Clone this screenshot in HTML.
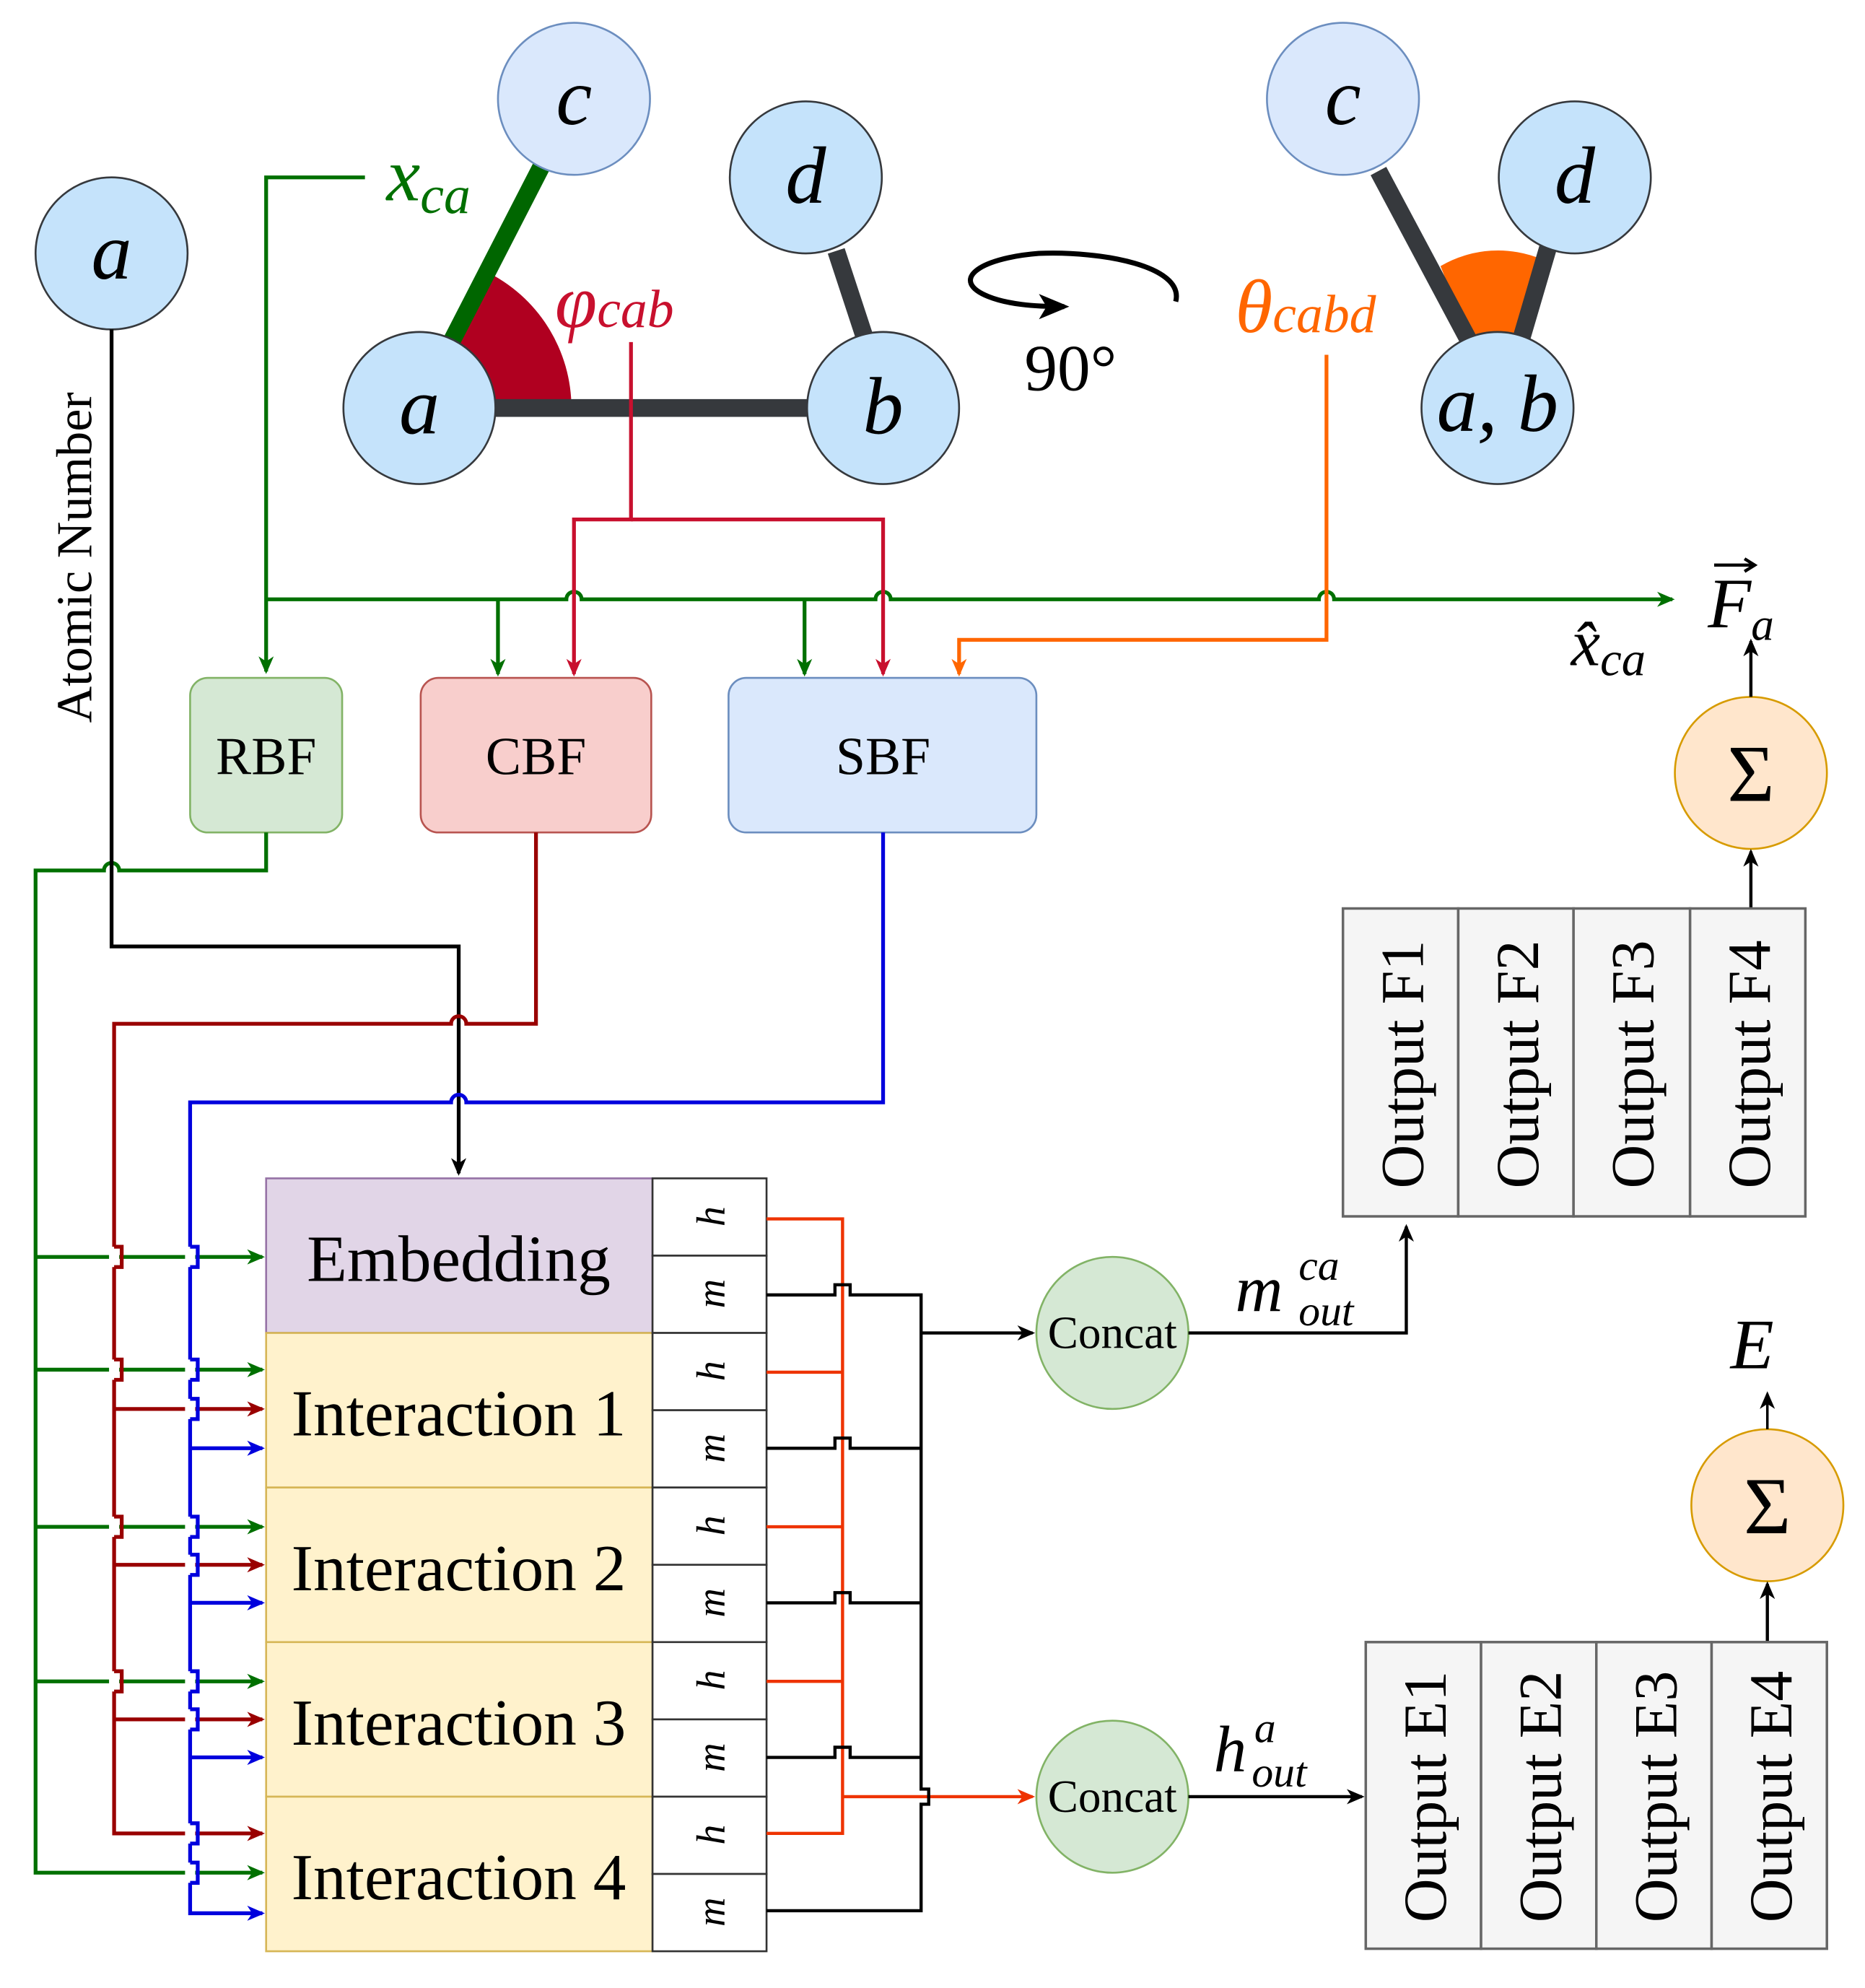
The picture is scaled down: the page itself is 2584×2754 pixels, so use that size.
<!DOCTYPE html>
<html><head><meta charset="utf-8"><style>html,body{margin:0;padding:0;background:#fff}svg{display:block}</style></head><body>
<svg width="2584" height="2754" viewBox="0 0 1472 1569" xmlns="http://www.w3.org/2000/svg" font-family="Liberation Serif, serif">
<defs>
<marker id="ak" markerWidth="14" markerHeight="12" refX="12" refY="6" orient="auto" markerUnits="userSpaceOnUse"><path d="M0,0 L14,6 L0,12 L4,6z" fill="#000"/></marker>
<marker id="ag" markerWidth="14" markerHeight="12" refX="12" refY="6" orient="auto" markerUnits="userSpaceOnUse"><path d="M0,0 L14,6 L0,12 L4,6z" fill="#007000"/></marker>
<marker id="ar" markerWidth="14" markerHeight="12" refX="12" refY="6" orient="auto" markerUnits="userSpaceOnUse"><path d="M0,0 L14,6 L0,12 L4,6z" fill="#c8102e"/></marker>
<marker id="ad" markerWidth="14" markerHeight="12" refX="12" refY="6" orient="auto" markerUnits="userSpaceOnUse"><path d="M0,0 L14,6 L0,12 L4,6z" fill="#990000"/></marker>
<marker id="ab" markerWidth="14" markerHeight="12" refX="12" refY="6" orient="auto" markerUnits="userSpaceOnUse"><path d="M0,0 L14,6 L0,12 L4,6z" fill="#0000dd"/></marker>
<marker id="ao" markerWidth="14" markerHeight="12" refX="12" refY="6" orient="auto" markerUnits="userSpaceOnUse"><path d="M0,0 L14,6 L0,12 L4,6z" fill="#ff6600"/></marker>
<marker id="aor" markerWidth="14" markerHeight="12" refX="12" refY="6" orient="auto" markerUnits="userSpaceOnUse"><path d="M0,0 L14,6 L0,12 L4,6z" fill="#ee3300"/></marker>
<marker id="abig" markerWidth="24" markerHeight="20" refX="20" refY="10" orient="auto" markerUnits="userSpaceOnUse"><path d="M0,0 L24,10 L0,20 L6,10z" fill="#000"/></marker>
</defs>

<path d="M331,322 L451,322 A120,120 0 0 0 383,214 Z" fill="#b00020"/>
<line x1="331" y1="322" x2="697" y2="322" stroke="#36393d" stroke-width="14"/>
<line x1="355" y1="272" x2="428" y2="130" stroke="#006600" stroke-width="14"/>
<line x1="660" y1="198" x2="683" y2="268" stroke="#36393d" stroke-width="14"/>
<g stroke="#36393d" stroke-width="1.5">
<circle cx="88" cy="200" r="60" fill="#c5e3fb"/>
<circle cx="453" cy="78" r="60" fill="#dae8fc" stroke="#6c8ebf"/>
<circle cx="636" cy="140" r="60" fill="#c5e3fb"/>
<circle cx="331" cy="322" r="60" fill="#c5e3fb"/>
<circle cx="697" cy="322" r="60" fill="#c5e3fb"/>
</g>
<g font-style="italic" font-size="64" text-anchor="middle">
<text x="88" y="220">a</text><text x="453" y="98">c</text><text x="636" y="160">d</text><text x="331" y="342">a</text><text x="697" y="342">b</text>
</g>
<text x="305" y="158" font-style="italic" font-size="60" fill="#007000">x<tspan font-size="42" dy="10">ca</tspan></text>
<text x="438" y="258" font-style="italic" font-size="60" fill="#c8102e">φ<tspan font-size="42">cab</tspan></text>
<path d="M928,238 C935,210 870,198 820,200 C770,204 750,222 780,234 C795,240 815,242 840,242" fill="none" stroke="#000" stroke-width="4" marker-end="url(#abig)"/>
<text x="845" y="308" font-size="52" text-anchor="middle">90°</text>

<path d="M1160,268 L1137,210 A90,90 0 0 1 1218,205 L1200,268 Z" fill="#ff6600"/>
<line x1="1088" y1="135" x2="1160" y2="270" stroke="#36393d" stroke-width="14"/>
<line x1="1222" y1="195" x2="1200" y2="270" stroke="#36393d" stroke-width="14"/>
<g stroke="#36393d" stroke-width="1.5">
<circle cx="1060" cy="78" r="60" fill="#dae8fc" stroke="#6c8ebf"/>
<circle cx="1243" cy="140" r="60" fill="#c5e3fb"/>
<circle cx="1182" cy="322" r="60" fill="#c5e3fb"/>
</g>
<g font-style="italic" font-size="64" text-anchor="middle">
<text x="1060" y="98">c</text><text x="1243" y="160">d</text><text x="1182" y="340">a, b</text>
</g>
<text x="975" y="262" font-style="italic" font-size="60" fill="#ff6600">θ<tspan font-size="42">cabd</tspan></text>

<text transform="translate(72,440) rotate(-90)" font-size="40" text-anchor="middle">Atomic Number</text>

<g fill="none" stroke="#007000" stroke-width="3">
<path d="M288,140 H210 V530" marker-end="url(#ag)"/>
<path d="M210,473 H447 a6,6 0 0 1 12,0 H691 a6,6 0 0 1 12,0 H1041 a6,6 0 0 1 12,0 H1320" marker-end="url(#ag)"/>
<path d="M393,473 V532" marker-end="url(#ag)"/>
<path d="M635,473 V532" marker-end="url(#ag)"/>
</g>
<g fill="none" stroke="#c8102e" stroke-width="3">
<path d="M498,270 V410 H453 V532" marker-end="url(#ar)"/>
<path d="M498,410 H697 V532" marker-end="url(#ar)"/>
</g>
<path d="M1047,280 V505 H757 V532" fill="none" stroke="#ff6600" stroke-width="3" marker-end="url(#ao)"/>
<text x="1240" y="525" font-style="italic" font-size="52">x̂<tspan font-size="38" dy="8">ca</tspan></text>
<text x="1348" y="495" font-style="italic" font-size="56">F<tspan font-size="36" dy="10">a</tspan></text>
<path d="M1353,446 H1384 M1377,441 L1385,446 L1377,451" stroke="#000" stroke-width="2.5" fill="none"/>

<rect x="150" y="535" width="120" height="122" rx="14" fill="#d5e8d4" stroke="#82b366" stroke-width="1.5"/>
<rect x="332" y="535" width="182" height="122" rx="14" fill="#f8cecc" stroke="#b85450" stroke-width="1.5"/>
<rect x="575" y="535" width="243" height="122" rx="14" fill="#dae8fc" stroke="#6c8ebf" stroke-width="1.5"/>
<g font-size="42" text-anchor="middle"><text x="210" y="611">RBF</text><text x="423" y="611">CBF</text><text x="697" y="611">SBF</text></g>

<circle cx="1382" cy="610" r="60" fill="#ffe6cc" stroke="#d79b00" stroke-width="1.5"/>
<text x="1382" y="632" font-size="64" text-anchor="middle">Σ</text>
<path d="M1382,550 V506" stroke="#000" stroke-width="2.5" marker-end="url(#ak)"/>
<path d="M1382,717 V672" stroke="#000" stroke-width="2.5" marker-end="url(#ak)"/>
<g stroke="#666" stroke-width="2" fill="#f5f5f5">
<rect x="1060" y="717" width="91" height="243"/><rect x="1151" y="717" width="91" height="243"/><rect x="1242" y="717" width="92" height="243"/><rect x="1334" y="717" width="91" height="243"/>
</g>
<g font-size="48" text-anchor="middle">
<text transform="translate(1123,840) rotate(-90)">Output F1</text>
<text transform="translate(1214,840) rotate(-90)">Output F2</text>
<text transform="translate(1305,840) rotate(-90)">Output F3</text>
<text transform="translate(1397,840) rotate(-90)">Output F4</text>
</g>

<circle cx="1395" cy="1188" r="60" fill="#ffe6cc" stroke="#d79b00" stroke-width="1.5"/>
<text x="1395" y="1210" font-size="64" text-anchor="middle">Σ</text>
<text x="1383" y="1080" font-style="italic" font-size="56" text-anchor="middle">E</text>
<path d="M1395,1128 V1100" stroke="#000" stroke-width="2" marker-end="url(#ak)"/>
<path d="M1395,1296 V1250" stroke="#000" stroke-width="2.5" marker-end="url(#ak)"/>
<g stroke="#666" stroke-width="2" fill="#f5f5f5">
<rect x="1078" y="1296" width="91" height="242"/><rect x="1169" y="1296" width="91" height="242"/><rect x="1260" y="1296" width="91" height="242"/><rect x="1351" y="1296" width="91" height="242"/>
</g>
<g font-size="48" text-anchor="middle">
<text transform="translate(1141,1418) rotate(-90)">Output E1</text>
<text transform="translate(1232,1418) rotate(-90)">Output E2</text>
<text transform="translate(1323,1418) rotate(-90)">Output E3</text>
<text transform="translate(1414,1418) rotate(-90)">Output E4</text>
</g>

<g fill="none" stroke-width="3">
<path d="M210,657 V687 H94 a6,6 0 0 0 -12,0 H28 V1478 H207" stroke="#007000" marker-end="url(#ag)"/>
<path d="M28,992 H207" stroke="#007000" marker-end="url(#ag)"/>
<path d="M28,1081 H207" stroke="#007000" marker-end="url(#ag)"/>
<path d="M28,1205 H207" stroke="#007000" marker-end="url(#ag)"/>
<path d="M28,1327 H207" stroke="#007000" marker-end="url(#ag)"/>
<path d="M88,260 V747 H362 V926" stroke="#000" marker-end="url(#ak)"/>
<path d="M423,657 V808 H368 a6,6 0 0 0 -12,0 H90 V1447 H207" stroke="#990000" marker-end="url(#ad)"/>
<path d="M90,1112 H207" stroke="#990000" marker-end="url(#ad)"/>
<path d="M90,1235 H207" stroke="#990000" marker-end="url(#ad)"/>
<path d="M90,1357 H207" stroke="#990000" marker-end="url(#ad)"/>
<path d="M697,657 V870 H368 a6,6 0 0 0 -12,0 H150 V1510 H207" stroke="#0000dd" marker-end="url(#ab)"/>
<path d="M150,1143 H207" stroke="#0000dd" marker-end="url(#ab)"/>
<path d="M150,1265 H207" stroke="#0000dd" marker-end="url(#ab)"/>
<path d="M150,1387 H207" stroke="#0000dd" marker-end="url(#ab)"/>
</g>
<g fill="#fff" stroke="none">
<rect x="86" y="984" width="8" height="16"/><rect x="86" y="1073" width="8" height="16"/><rect x="86" y="1197" width="8" height="16"/><rect x="86" y="1319" width="8" height="16"/>
<rect x="146" y="984" width="8" height="16"/><rect x="146" y="1073" width="8" height="16"/><rect x="146" y="1104" width="8" height="16"/><rect x="146" y="1197" width="8" height="16"/><rect x="146" y="1227" width="8" height="16"/><rect x="146" y="1319" width="8" height="16"/><rect x="146" y="1349" width="8" height="16"/><rect x="146" y="1439" width="8" height="16"/><rect x="146" y="1470" width="8" height="16"/>
</g>
<g fill="none" stroke-width="3">
<path d="M90,984 h6 v16 h-6" stroke="#990000"/><path d="M90,1073 h6 v16 h-6" stroke="#990000"/><path d="M90,1197 h6 v16 h-6" stroke="#990000"/><path d="M90,1319 h6 v16 h-6" stroke="#990000"/>
<path d="M150,984 h6 v16 h-6" stroke="#0000dd"/><path d="M150,1073 h6 v16 h-6" stroke="#0000dd"/><path d="M150,1104 h6 v16 h-6" stroke="#0000dd"/><path d="M150,1197 h6 v16 h-6" stroke="#0000dd"/><path d="M150,1227 h6 v16 h-6" stroke="#0000dd"/><path d="M150,1319 h6 v16 h-6" stroke="#0000dd"/><path d="M150,1349 h6 v16 h-6" stroke="#0000dd"/><path d="M150,1439 h6 v16 h-6" stroke="#0000dd"/><path d="M150,1470 h6 v16 h-6" stroke="#0000dd"/>
</g>

<rect x="210" y="930" width="305" height="122" fill="#e1d5e7" stroke="#9673a6" stroke-width="1.5"/>
<g fill="#fff2cc" stroke="#d6b656" stroke-width="1.5">
<rect x="210" y="1052" width="305" height="122"/><rect x="210" y="1174" width="305" height="122"/><rect x="210" y="1296" width="305" height="122"/><rect x="210" y="1418" width="305" height="122"/>
</g>
<g font-size="52" text-anchor="middle">
<text x="362" y="1011">Embedding</text>
<text x="362" y="1133">Interaction 1</text>
<text x="362" y="1255">Interaction 2</text>
<text x="362" y="1377">Interaction 3</text>
<text x="362" y="1499">Interaction 4</text>
</g>
<g fill="#fff" stroke="#333" stroke-width="1.5">
<rect x="515" y="930" width="90" height="61"/><rect x="515" y="991" width="90" height="61"/>
<rect x="515" y="1052" width="90" height="61"/><rect x="515" y="1113" width="90" height="61"/>
<rect x="515" y="1174" width="90" height="61"/><rect x="515" y="1235" width="90" height="61"/>
<rect x="515" y="1296" width="90" height="61"/><rect x="515" y="1357" width="90" height="61"/>
<rect x="515" y="1418" width="90" height="61"/><rect x="515" y="1479" width="90" height="61"/>
</g>
<g font-style="italic" font-size="32" text-anchor="middle">
<text transform="translate(572,960) rotate(-90)">h</text><text transform="translate(572,1021) rotate(-90)">m</text>
<text transform="translate(572,1082) rotate(-90)">h</text><text transform="translate(572,1143) rotate(-90)">m</text>
<text transform="translate(572,1204) rotate(-90)">h</text><text transform="translate(572,1265) rotate(-90)">m</text>
<text transform="translate(572,1326) rotate(-90)">h</text><text transform="translate(572,1387) rotate(-90)">m</text>
<text transform="translate(572,1448) rotate(-90)">h</text><text transform="translate(572,1509) rotate(-90)">m</text>
</g>

<g fill="none" stroke-width="2.5">
<path d="M605,962 H665 V1447 H605" stroke="#ee3300"/>
<path d="M605,1083 H665 M605,1205 H665 M605,1327 H665" stroke="#ee3300"/>
<path d="M665,1418 H815" stroke="#ee3300" marker-end="url(#aor)"/>
<path d="M605,1022 H659 v-8 h12 v8 H727 V1412 h6 v12 h-6 V1508 H605" stroke="#000"/>
<path d="M605,1143 H659 v-8 h12 v8 H727" stroke="#000"/>
<path d="M605,1265 H659 v-8 h12 v8 H727" stroke="#000"/>
<path d="M605,1387 H659 v-8 h12 v8 H727" stroke="#000"/>
<path d="M727,1052 H815" stroke="#000" marker-end="url(#ak)"/>
</g>

<circle cx="878" cy="1052" r="60" fill="#d5e8d4" stroke="#82b366" stroke-width="1.5"/>
<circle cx="878" cy="1418" r="60" fill="#d5e8d4" stroke="#82b366" stroke-width="1.5"/>
<g font-size="36" text-anchor="middle"><text x="878" y="1064">Concat</text><text x="878" y="1430">Concat</text></g>
<path d="M938,1052 H1110 V968" fill="none" stroke="#000" stroke-width="2.5" marker-end="url(#ak)"/>
<path d="M938,1418 H1075" fill="none" stroke="#000" stroke-width="2.5" marker-end="url(#ak)"/>
<text x="975" y="1035" font-style="italic" font-size="52">m</text>
<text x="1025" y="1010" font-style="italic" font-size="34">ca</text>
<text x="1025" y="1046" font-style="italic" font-size="34">out</text>
<text x="958" y="1398" font-style="italic" font-size="52">h</text>
<text x="990" y="1375" font-style="italic" font-size="34">a</text>
<text x="988" y="1410" font-style="italic" font-size="34">out</text>
</svg>
</body></html>
